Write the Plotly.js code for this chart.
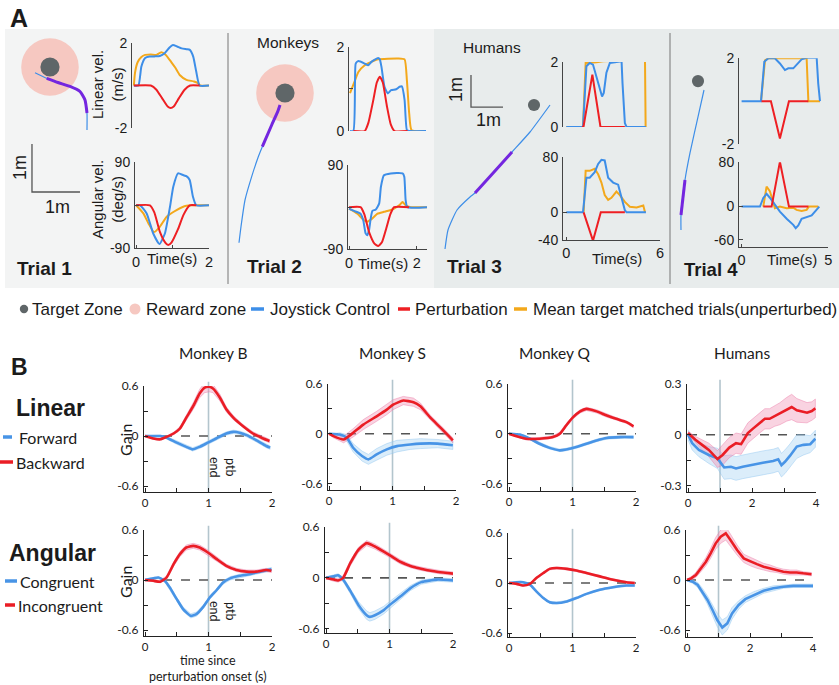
<!DOCTYPE html>
<html><head><meta charset="utf-8">
<script src="https://cdn.plot.ly/plotly-3.0.1.min.js"></script>
<style>html,body{margin:0;padding:0;background:#fff}#chart{width:839px;height:685px}</style>
</head><body><div id="chart"></div><script>
// ---------------- DATA: Panel A trajectories (metres) ----------------
const traj1X = [1.604,1.604,1.5625,1.458,1.25,1.0,0.765,0.521];
const traj1Y = [2.708,3.0625,3.333,3.51,3.615,3.698,3.785,3.902];
const traj1PtbFrom = 1, traj1PtbTo = 6;
const target1 = [0.833,4.021];
const traj2X = [0.146,0.1875,0.271,0.41,0.548,0.632,0.827,0.952,1.0];
const traj2Y = [0.36,0.694,1.25,1.736,2.152,2.361,2.8125,3.09,3.229];
const traj2PtbFrom = 5, traj2PtbTo = 8;
const target2 = [1.104,3.479];
const traj3X = [0.219,0.3125,0.594,1.0,1.156,1.73,2.3125,2.875,3.5];
const traj3Y = [0.344,0.9375,1.5625,1.969,2.094,2.73,3.375,4.0,4.844];
const traj3PtbFrom = 4, traj3PtbTo = 6;
const target3 = [3.0,4.844];
const traj4X = [0.281,0.281,0.406,0.5625,0.8125,1.0];
const traj4Y = [0.9375,1.406,2.5,3.344,4.469,5.3125];
const traj4PtbFrom = 1, traj4PtbTo = 2;
const target4 = [0.8125,5.59];
const rewardRadius = 0.6, targetRadiusMonkey = 0.2, targetRadiusHuman = 0.19;

// ---------------- DATA: Panel A velocity profiles ----------------
// Trial 1
const t1LinJoyT = [0,0.12,0.2,0.3,0.42,0.55,0.69,0.82,0.95,1.04,1.15,1.27,1.4,1.49,1.58,1.66,1.75,2.0];
const t1LinJoy  = [0,0,0.9,1.3,1.37,1.38,1.4,1.53,1.8,1.92,1.85,1.76,1.72,1.69,1.37,0.66,0,0];
const t1LinMeanT = [0,0.03,0.1,0.2,0.3,0.45,0.6,0.73,0.85,1.0,1.1,1.22,1.4,1.6,1.72,1.76,2.0];
const t1LinMean  = [0,0.6,1.1,1.35,1.45,1.47,1.45,1.57,1.45,1.1,0.85,0.5,0.27,0.19,0.1,0,0];
const t1LinPtbT = [0,0.45,0.6,0.75,0.9,0.98,1.06,1.2,1.35,1.5,1.75];
const t1LinPtb  = [0,0,-0.2,-0.6,-1.0,-1.07,-1.0,-0.6,-0.2,0,0];
const t1AngJoyT = [0,0.11,0.29,0.47,0.64,0.79,0.93,1.02,1.15,1.3,1.38,1.47,1.56,1.65,2.0];
const t1AngJoy  = [0,0,-17,-59,-81,-59,-3,39,67,63,61,53,18,0,0];
const t1AngMeanT = [0,0.2,0.34,0.49,0.65,0.84,1.11,1.38,1.56,2.0];
const t1AngMean  = [0,-17,-38,-56,-45,-24,-10,-1,0,0];
const t1AngPtbT = [0,0.38,0.5,0.65,0.8,0.88,0.97,1.15,1.3,1.47,1.65];
const t1AngPtb  = [0,0,-15,-55,-78,-83,-78,-50,-20,0,0];
// Trial 2
const t2LinJoyT = [0,0.1,0.15,0.17,0.25,0.44,0.54,0.64,0.84,0.89,0.94,1.03,1.13,1.23,1.38,1.48,1.55,1.63,1.7,1.77,2.27];
const t2LinJoy  = [0,0,1.2,1.6,1.66,1.6,1.56,1.64,1.73,1.7,1.52,1.05,0.89,0.97,0.99,1.05,1.06,0.74,0.02,0,0];
const t2LinMeanT = [0,0.15,0.25,0.44,0.64,0.84,1.43,1.63,1.7,1.77,1.84,2.27];
const t2LinMean  = [0.9,1.2,1.4,1.56,1.64,1.7,1.72,1.7,1.2,0.4,0.02,0];
const t2LinPtbT = [0.1,0.44,0.55,0.7,0.8,0.89,0.98,1.1,1.22,1.33,1.72];
const t2LinPtb  = [0,0,0.2,0.75,1.15,1.29,1.15,0.6,0.15,0,0];
const t2AngJoyT = [0,0.15,0.34,0.42,0.49,0.54,0.59,0.64,0.69,0.79,0.89,0.94,1.03,1.23,1.58,1.63,1.67,1.72,2.3];
const t2AngJoy  = [-3,-8,-14,-28,-56,-60,-49,-24,-8,-5,8,43,68,72,72,65,15,0,0];
const t2AngMeanT = [0,0.25,0.44,0.54,0.69,0.84,1.03,1.23,1.33,1.48,1.58,1.67,1.82,2.3];
const t2AngMean  = [-3,-14,-28,-31,-24,-14,-10,-6,-3,4,11,4,0,0];
const t2AngPtbT = [0,0.34,0.45,0.6,0.75,0.86,0.97,1.1,1.22,1.33,1.77];
const t2AngPtb  = [0,0,-15,-55,-78,-83,-75,-45,-15,0,0];
// Trial 3
const t3LinJoyT = [0,1.07,1.29,1.5,1.71,1.93,2.14,2.29,2.4,2.57,2.79,3.21,3.54,3.6,3.75,3.86,5.1];
const t3LinJoy  = [0,0,1.87,1.97,1.92,1.56,1.15,0.94,1.05,1.67,1.97,2.0,2.02,1.35,0.12,0,0];
const t3LinMeanT = [0,1.07,1.24,1.5,1.93,2.36,3.21,5.04,5.08];
const t3LinMean  = [0,0,1.97,1.97,1.99,2.02,2.04,2.04,0];
const t3LinPtbT = [1.0,1.1,1.67,2.19,3.75];
const t3LinPtb  = [0,0,1.61,0,0];
const t3AngJoyT = [0,1.07,1.29,1.5,1.82,2.04,2.25,2.46,2.68,3.0,3.32,3.54,3.75,3.86,5.1];
const t3AngJoy  = [0,0,50,50,58,70,76,75,50,43,40,20,3,0,0];
const t3AngMeanT = [1.11,1.24,1.5,1.82,2.04,2.25,2.46,2.68,2.89,3.21,3.43,3.75,4.07,4.5,4.93,5.04];
const t3AngMean  = [0,60,60,63,55,43,25,18,21,30,25,15,8,7,10,0];
const t3AngPtbT = [1.11,1.71,2.21,3.75];
const t3AngPtb  = [0,-41,0,0];
// Trial 4
const t4LinJoyT = [0,1.12,1.31,1.54,1.92,2.21,2.5,2.69,2.98,3.17,3.46,3.75,4.33,4.42,4.48,4.52];
const t4LinJoy  = [0,0,1.84,2.0,2.0,1.76,1.45,1.53,1.53,1.68,1.95,2.02,2.02,0.82,0,0];
const t4LinMeanT = [1.12,1.35,1.54,3.75,3.85,4.52];
const t4LinMean  = [0,1.91,2.0,2.0,0,0];
const t4LinPtbT = [1.15,1.69,2.21,2.73,3.85];
const t4LinPtb  = [0,0,-1.74,0,0];
const t4AngJoyT = [0,1.06,1.25,1.44,1.63,1.92,2.21,2.6,2.98,3.12,3.27,3.46,3.75,4.04,4.23,4.42,4.48];
const t4AngJoy  = [0,0,15.6,23,16,3,-9,-22,-33,-39,-34,-22,-19,-16,-9,-2,0];
const t4AngMeanT = [1.25,1.44,1.63,1.77,1.92,2.21,2.6,2.98,3.17,3.46,3.75,3.88,4.42];
const t4AngMean  = [0,36,28,12,-3,0,-3,-2,-6,-8,-6,0,0];
const t4AngPtbT = [1.25,1.73,2.21,2.73,3.85];
const t4AngPtb  = [0,0,81,0,0];

// ---------------- DATA: Panel B gains (mean and SEM) ----------------
const mbLinBwdT = [0,0.13,0.24,0.34,0.45,0.55,0.65,0.76,0.86,0.94,1.01,1.07,1.18,1.28,1.39,1.54,1.70,1.86,1.96];
const mbLinBwd  = [0,-0.03,-0.04,-0.01,0.03,0.09,0.22,0.36,0.51,0.58,0.59,0.57,0.46,0.32,0.22,0.12,0.03,-0.03,-0.06];
const mbLinBwdS = [0,0.01,0.01,0.01,0.015,0.02,0.03,0.04,0.05,0.06,0.06,0.05,0.04,0.03,0.025,0.02,0.02,0.02,0.02];
const mbLinFwdT = [0,0.13,0.24,0.34,0.5,0.65,0.75,0.86,0.99,1.12,1.28,1.39,1.49,1.6,1.75,1.91,1.97];
const mbLinFwd  = [0,0,0,-0.02,-0.08,-0.13,-0.16,-0.13,-0.08,-0.03,0.03,0.05,0.04,0.01,-0.05,-0.12,-0.14];
const mbLinFwdS = [0,0.01,0.01,0.015,0.02,0.02,0.02,0.02,0.02,0.02,0.02,0.02,0.02,0.02,0.02,0.02,0.02];
const msLinBwdT = [0,0.07,0.23,0.38,0.54,0.75,0.91,1.01,1.17,1.33,1.44,1.6,1.76,1.95];
const msLinBwd  = [0,-0.03,-0.07,0.01,0.11,0.21,0.29,0.35,0.4,0.38,0.33,0.19,0.07,-0.08];
const msLinBwdS = [0,0.02,0.04,0.05,0.06,0.06,0.06,0.06,0.05,0.05,0.04,0.03,0.03,0.03];
const msLinFwdT = [0,0.17,0.28,0.38,0.52,0.62,0.75,0.91,1.07,1.28,1.44,1.71,1.95];
const msLinFwd  = [0,-0.01,-0.05,-0.17,-0.27,-0.31,-0.25,-0.19,-0.15,-0.13,-0.12,-0.12,-0.14];
const msLinFwdS = [0,0.02,0.04,0.05,0.06,0.06,0.07,0.07,0.07,0.06,0.06,0.05,0.05];
const mqLinBwdT = [0,0.12,0.27,0.48,0.69,0.8,0.9,1.01,1.12,1.22,1.38,1.54,1.69,1.85,1.96];
const mqLinBwd  = [0,-0.03,-0.06,-0.06,-0.04,0,0.1,0.2,0.27,0.3,0.27,0.22,0.18,0.14,0.09];
const mqLinBwdS = [0.01,0.01,0.015,0.015,0.015,0.02,0.02,0.02,0.02,0.02,0.02,0.02,0.015,0.015,0.015];
const mqLinFwdT = [0,0.17,0.33,0.48,0.64,0.8,0.9,1.06,1.22,1.38,1.54,1.75,1.96];
const mqLinFwd  = [0,-0.01,-0.06,-0.12,-0.17,-0.2,-0.19,-0.16,-0.12,-0.08,-0.05,-0.04,-0.04];
const mqLinFwdS = [0.01,0.01,0.01,0.015,0.015,0.015,0.015,0.015,0.015,0.015,0.015,0.015,0.015];
const huLinBwdT = [0,0.23,0.44,0.65,0.92,1.08,1.29,1.5,1.66,1.87,2.03,2.24,2.4,2.55,2.71,2.87,3.08,3.24,3.4,3.56,3.72,3.87,3.98];
const huLinBwd  = [0.01,-0.03,-0.06,-0.09,-0.144,-0.12,-0.076,-0.05,-0.056,0.01,0.036,0.07,0.094,0.094,0.11,0.124,0.15,0.164,0.144,0.136,0.13,0.14,0.156];
const huLinBwdS = [0.01,0.02,0.03,0.04,0.05,0.06,0.06,0.06,0.06,0.06,0.06,0.06,0.06,0.06,0.06,0.065,0.07,0.075,0.07,0.065,0.06,0.055,0.055];
const huLinFwdT = [0,0.13,0.34,0.65,0.92,1.13,1.34,1.5,1.71,2.03,2.34,2.66,2.82,2.92,3.03,3.19,3.4,3.61,3.82,3.98];
const huLinFwd  = [0,-0.05,-0.09,-0.12,-0.14,-0.194,-0.19,-0.2,-0.19,-0.176,-0.166,-0.156,-0.146,-0.18,-0.16,-0.124,-0.07,-0.06,-0.056,-0.024];
const huLinFwdS = [0.03,0.04,0.04,0.05,0.06,0.07,0.07,0.07,0.07,0.07,0.07,0.07,0.07,0.07,0.07,0.07,0.07,0.06,0.05,0.05];
const mbAngIncT = [0,0.13,0.24,0.34,0.45,0.55,0.65,0.76,0.86,0.99,1.13,1.28,1.44,1.6,1.75,1.91,1.99];
const mbAngInc  = [0,-0.01,-0.02,0.03,0.19,0.31,0.39,0.41,0.39,0.33,0.25,0.17,0.12,0.1,0.1,0.12,0.11];
const mbAngIncS = [0.01,0.01,0.015,0.02,0.025,0.03,0.03,0.03,0.03,0.03,0.025,0.02,0.02,0.02,0.02,0.02,0.02];
const mbAngConT = [0,0.13,0.21,0.31,0.39,0.5,0.6,0.72,0.81,0.92,1.02,1.13,1.23,1.34,1.49,1.65,1.81,1.99];
const mbAngCon  = [0,0.02,0.03,-0.01,-0.09,-0.23,-0.35,-0.43,-0.41,-0.32,-0.21,-0.12,-0.03,0.02,0.05,0.07,0.1,0.13];
const mbAngConS = [0.01,0.01,0.01,0.015,0.02,0.02,0.025,0.025,0.025,0.02,0.02,0.02,0.02,0.02,0.02,0.02,0.02,0.02];
const msAngIncT = [0,0.12,0.19,0.27,0.38,0.51,0.64,0.77,0.91,1.04,1.17,1.33,1.48,1.6,1.77,2.0];
const msAngInc  = [0,-0.02,-0.03,0,0.17,0.33,0.41,0.37,0.31,0.25,0.19,0.14,0.11,0.09,0.07,0.05];
const msAngIncS = [0.01,0.02,0.02,0.025,0.03,0.03,0.03,0.03,0.03,0.025,0.025,0.02,0.02,0.02,0.02,0.02];
const msAngConT = [0,0.12,0.19,0.27,0.38,0.51,0.64,0.69,0.77,0.91,1.0,1.17,1.33,1.5,1.75,2.0];
const msAngCon  = [0,0.02,0.03,-0.02,-0.15,-0.32,-0.44,-0.46,-0.44,-0.38,-0.32,-0.22,-0.12,-0.05,-0.02,-0.03];
const msAngConS = [0.01,0.02,0.02,0.025,0.03,0.04,0.05,0.05,0.05,0.045,0.04,0.035,0.03,0.025,0.02,0.02];
const mqAngIncT = [0,0.12,0.22,0.33,0.43,0.54,0.64,0.75,0.91,1.06,1.22,1.43,1.64,1.85,1.98];
const mqAngInc  = [0,-0.01,-0.03,-0.01,0.06,0.12,0.17,0.18,0.17,0.15,0.12,0.08,0.04,0.01,0];
const mqAngIncS = [0.005,0.01,0.01,0.01,0.01,0.01,0.012,0.012,0.012,0.012,0.01,0.01,0.01,0.01,0.01];
const mqAngConT = [0,0.12,0.22,0.33,0.43,0.54,0.64,0.75,0.91,1.06,1.22,1.43,1.64,1.85,1.98];
const mqAngCon  = [0,0.01,0.01,-0.02,-0.1,-0.18,-0.23,-0.24,-0.22,-0.18,-0.13,-0.08,-0.05,-0.03,-0.03];
const mqAngConS = [0.005,0.01,0.01,0.01,0.01,0.012,0.012,0.012,0.012,0.012,0.01,0.01,0.01,0.01,0.01];
const huAngIncT = [0,0.13,0.28,0.44,0.6,0.75,0.91,1.07,1.23,1.38,1.59,1.8,2.01,2.22,2.43,2.64,2.85,3.06,3.27,3.48,3.69,3.95];
const huAngInc  = [0,0.02,0.06,0.14,0.22,0.32,0.44,0.52,0.56,0.48,0.36,0.26,0.22,0.19,0.16,0.14,0.12,0.1,0.09,0.09,0.08,0.07];
const huAngIncS = [0.01,0.02,0.03,0.04,0.05,0.06,0.07,0.08,0.08,0.07,0.06,0.05,0.05,0.05,0.04,0.04,0.03,0.03,0.03,0.03,0.02,0.02];
const huAngConT = [0,0.18,0.34,0.49,0.65,0.81,0.96,1.12,1.28,1.43,1.64,1.85,2.12,2.43,2.74,3.06,3.37,3.69,4.0];
const huAngCon  = [0,-0.02,-0.06,-0.14,-0.24,-0.36,-0.48,-0.57,-0.52,-0.4,-0.3,-0.23,-0.18,-0.13,-0.1,-0.08,-0.07,-0.07,-0.07];
const huAngConS = [0.01,0.02,0.03,0.04,0.05,0.06,0.08,0.09,0.08,0.07,0.05,0.04,0.04,0.03,0.03,0.02,0.02,0.02,0.02];

// Tick labels / text
const titlesB = ['Monkey B','Monkey S','Monkey Q','Humans'];
const legendA = ['Target Zone','Reward zone','Joystick Control','Perturbation','Mean target matched trials(unperturbed)'];

// ---------------- BUILD ----------------
const W=839,H=685;
const C={joy:'#3d8ee8',ptb:'#ee1f23',mean:'#f3a81b',purple:'#7426df',target:'#5f6668',reward:'#f6c8c1',
  bRed:'#ea1d25',bBlue:'#4894e6',bRedBand:'rgba(240,140,175,0.38)',bRedEdge:'rgba(235,120,165,0.55)',
  bBlueBand:'rgba(160,208,242,0.38)',bBlueEdge:'rgba(140,195,238,0.55)',vline:'#b3c5cd'};
const FA='"Liberation Sans", Arial, Helvetica, sans-serif';
const FB='Lato, "Open Sans", sans-serif';
const traces=[];
const layout={width:W,height:H,margin:{l:0,r:0,t:0,b:0},paper_bgcolor:'#ffffff',plot_bgcolor:'rgba(0,0,0,0)',
  showlegend:false,shapes:[],annotations:[],hovermode:false};
let n=0;
function axes(x0,x1,yTop,yBot,xr,yr,xo,yo){
  n++; const sfx=(n===1?'':n);
  const xs='x'+sfx, ys='y'+sfx;
  layout['xaxis'+sfx]=Object.assign({domain:[x0/W,x1/W],range:xr,anchor:ys,showgrid:false,zeroline:false,visible:false,fixedrange:true},xo||{});
  layout['yaxis'+sfx]=Object.assign({domain:[1-yBot/H,1-yTop/H],range:yr,anchor:xs,showgrid:false,zeroline:false,visible:false,fixedrange:true},yo||{});
  return {x:xs,y:ys};
}
function line(ax,t,v,color,w,shape){
  traces.push({type:'scatter',mode:'lines',x:t,y:v,xaxis:ax.x,yaxis:ax.y,
    line:{color:color,width:w,shape:shape||'linear',smoothing:0.5},hoverinfo:'skip',cliponaxis:false});
}
function band(ax,t,v,s,fill,edge){
  const up=v.map((a,i)=>a+s[i]), lo=v.map((a,i)=>a-s[i]);
  traces.push({type:'scatter',mode:'lines',x:t.concat(t.slice().reverse()),y:up.concat(lo.slice().reverse()),
    fill:'toself',fillcolor:fill,line:{width:0.8,color:edge},xaxis:ax.x,yaxis:ax.y,hoverinfo:'skip'});
}
function txt(x,y,text,size,opts){
  layout.annotations.push(Object.assign({xref:'paper',yref:'paper',x:x/W,y:1-y/H,text:text,showarrow:false,
    xanchor:'center',yanchor:'middle',font:{family:FA,size:size,color:'#1b1b1b'}},opts||{}));
}
function prect(x0,y0,x1,y1,color){
  layout.shapes.push({type:'rect',xref:'paper',yref:'paper',x0:x0/W,x1:x1/W,y0:1-y1/H,y1:1-y0/H,fillcolor:color,line:{width:0},layer:'below'});
}
function pline(x0,y0,x1,y1,color,w){
  layout.shapes.push({type:'line',xref:'paper',yref:'paper',x0:x0/W,x1:x1/W,y0:1-y0/H,y1:1-y1/H,line:{color:color,width:w}});
}
function pdot(x,y,r,color){
  layout.shapes.push({type:'circle',xref:'paper',yref:'paper',x0:(x-r)/W,x1:(x+r)/W,y0:1-(y+r)/H,y1:1-(y-r)/H,fillcolor:color,line:{width:0}});
}
function circ(ax,c,r,color){
  layout.shapes.push({type:'circle',xref:ax.x,yref:ax.y,x0:c[0]-r,x1:c[0]+r,y0:c[1]-r,y1:c[1]+r,fillcolor:color,line:{width:0},layer:'below'});
}
function scaleBar(ax,x0,y0){
  layout.shapes.push({type:'path',xref:ax.x,yref:ax.y,path:`M ${x0} ${y0+1} L ${x0} ${y0} L ${x0+1} ${y0}`,line:{color:'#555',width:1.3}});
}
function yA(vals,texts){return {visible:true,showline:true,linecolor:'#444',linewidth:1,ticks:'inside',ticklen:4,tickcolor:'#444',
  tickvals:vals,ticktext:texts,tickfont:{family:FA,size:14,color:'#1b1b1b'},ticklabelstandoff:1};}
function xA(vals,texts){return {visible:true,showline:true,linecolor:'#444',linewidth:1,ticks:'inside',ticklen:3,tickcolor:'#444',
  tickvals:vals,ticktext:texts,tickfont:{family:FA,size:14.5,color:'#1b1b1b'},ticklabelstandoff:0};}

// Panel A backgrounds
prect(5,29,434,288,'#f3f4f4');
prect(434,29,839,288,'#e8ecec');
pline(228,33,228,284,'#777',1);
pline(670,33,670,284,'#777',1);
txt(19,18,'<b>A</b>',25);

// Trajectories
function traj(ax,X,Y,a,b){
  line(ax,X,Y,C.joy,1.2,'spline');
  line(ax,X.slice(a,b+1),Y.slice(a,b+1),C.purple,3,'spline');
}
const tr1=axes(10,130,35,260,[0,2.5],[0,4.6875]);
circ(tr1,target1,rewardRadius,C.reward); circ(tr1,target1,targetRadiusMonkey,C.target);
traj(tr1,traj1X,traj1Y,traj1PtbFrom,traj1PtbTo);
scaleBar(tr1,0.458,1.417);
const tr2=axes(232,335,35,260,[0,2.146],[0,4.6875]);
circ(tr2,target2,rewardRadius,C.reward); circ(tr2,target2,targetRadiusMonkey,C.target);
traj(tr2,traj2X,traj2Y,traj2PtbFrom,traj2PtbTo);
const tr3=axes(438,560,60,260,[0,3.8125],[0,6.25]);
circ(tr3,target3,targetRadiusHuman,C.target);
traj(tr3,traj3X,traj3Y,traj3PtbFrom,traj3PtbTo);
scaleBar(tr3,1.031,4.78);
const tr4=axes(672,730,60,260,[0,1.8125],[0,6.25]);
circ(tr4,target4,targetRadiusHuman,C.target);
traj(tr4,traj4X,traj4Y,traj4PtbFrom,traj4PtbTo);

// Scale labels
txt(20,168,'1m',18,{textangle:-90});
txt(57,207,'1m',18);
txt(456,90,'1m',18,{textangle:-90});
txt(488,120,'1m',18);

// Velocity plots
function velSet(ax,mt,mv,jt,jv,pt,pv,shape){
  line(ax,mt,mv,C.mean,2,shape); line(ax,jt,jv,C.joy,2,shape); line(ax,pt,pv,C.ptb,2,shape);
}
const v1l=axes(132,209,43.3,127.7,[-0.05,2],[-2,2],{},yA([-2,2],['-2','2']));
velSet(v1l,t1LinMeanT,t1LinMean,t1LinJoyT,t1LinJoy,t1LinPtbT,t1LinPtb,'spline');
const v1a=axes(135,209,162.3,248.3,[-0.03,2],[-90,90],xA([0,1,2],['0','','2']),yA([-90,0,90],['-90','','90']));
velSet(v1a,t1AngMeanT,t1AngMean,t1AngJoyT,t1AngJoy,t1AngPtbT,t1AngPtb,'spline');
const v2l=axes(349,427,46.7,131,[-0.03,2.3],[0,2],{},yA([0,1,2],['0','','2']));
velSet(v2l,t2LinMeanT,t2LinMean,t2LinJoyT,t2LinJoy,t2LinPtbT,t2LinPtb,'spline');
const v2a=axes(348,427,165,249.3,[-0.03,2.3],[-90,90],xA([0,2],['0','2']),yA([-90,0,90],['-90','','90']));
velSet(v2a,t2AngMeanT,t2AngMean,t2AngJoyT,t2AngJoy,t2AngPtbT,t2AngPtb,'spline');
const v3l=axes(563,660,62,127,[-0.21,6],[0,2],{},yA([0,2],['0','2']));
velSet(v3l,t3LinMeanT,t3LinMean,t3LinJoyT,t3LinJoy,t3LinPtbT,t3LinPtb);
const v3a=axes(563,660,157,240,[-0.21,6],[-40,80],xA([0,6],['0','6']),yA([-40,0,80],['-40','0','80']));
velSet(v3a,t3AngMeanT,t3AngMean,t3AngJoyT,t3AngJoy,t3AngPtbT,t3AngPtb);
const v4l=axes(739,828.3,58.3,144,[-0.15,5],[-2,2],{},yA([-2,2],['-2','2']));
velSet(v4l,t4LinMeanT,t4LinMean,t4LinJoyT,t4LinJoy,t4LinPtbT,t4LinPtb);
const v4a=axes(739,828.3,162.3,247,[-0.15,5],[-73,80],xA([0,5],['0','5']),yA([-60,0,80],['-60','0','80']));
velSet(v4a,t4AngMeanT,t4AngMean,t4AngJoyT,t4AngJoy,t4AngPtbT,t4AngPtb);

// Panel A texts
txt(108,85,'Linear vel.<br>(m/s)',15,{textangle:-90});
txt(108,200,'Angular vel.<br>(deg/s)',15,{textangle:-90});
txt(172,258,'Time(s)',15);
txt(383,264,'Time(s)',15);
txt(617,258,'Time(s)',15);
txt(792,259,'Time(s)',15);
txt(288,43,'Monkeys',15.5);
txt(492,47,'Humans',15.5);
txt(15,268,'<b>Trial 1</b>',19,{xanchor:'left'});
txt(245,267,'<b>Trial 2</b>',19,{xanchor:'left'});
txt(445,266,'<b>Trial 3</b>',19,{xanchor:'left'});
txt(682,269,'<b>Trial 4</b>',18.5,{xanchor:'left'});

// Legend row
pdot(24,309,4.2,C.target);
txt(30,309,legendA[0],17,{xanchor:'left'});
pdot(135,309,5.5,C.reward);
txt(144,309,legendA[1],17,{xanchor:'left'});
pline(251,309,264,309,C.joy,3.5);
txt(268,309,legendA[2],17,{xanchor:'left'});
pline(398,309,410,309,C.ptb,3.5);
txt(413,309,legendA[3],17,{xanchor:'left'});
pline(514,309,527,309,C.mean,3.5);
txt(531,309,legendA[4],17,{xanchor:'left'});

// Panel B
txt(19,367,'<b>B</b>',23);
txt(50,408,'<b>Linear</b>',23,{});
txt(52,553,'<b>Angular</b>',23,{});
pline(3,437,12,437,C.bBlue,3.5); txt(17,437,'Forward',16,{xanchor:'left',font:{family:FB,size:16,color:'#1b1b1b'}});
pline(0,462,13,462,C.bRed,3.5); txt(14,462,'Backward',16,{xanchor:'left',font:{family:FB,size:16,color:'#1b1b1b'}});
pline(5,581,17,581,C.bBlue,3.5); txt(18,581,'Congruent',16,{xanchor:'left',font:{family:FB,size:16,color:'#1b1b1b'}});
pline(5,605,15,605,C.bRed,3.5); txt(16,605,'Incongruent',16,{xanchor:'left',font:{family:FB,size:16,color:'#1b1b1b'}});

function yB(vals,texts){return {visible:true,showline:true,linecolor:'#222',linewidth:1.2,ticks:'inside',ticklen:4,tickcolor:'#222',
  tickvals:vals,ticktext:texts,tickfont:{family:FB,size:12,color:'#1b1b1b'},ticklabelstandoff:2};}
function xB(vals,texts){return {visible:true,showline:true,linecolor:'#222',linewidth:1.2,ticks:'inside',ticklen:4,tickcolor:'#222',
  tickvals:vals,ticktext:texts,tickfont:{family:FB,size:11.5,color:'#1b1b1b'},ticklabelstandoff:0};}
const y6=[-0.6,-0.3,0,0.3,0.6], y6t=['-0.6','','0','','0.6'];
const y3=[-0.3,-0.15,0,0.15,0.3], y3t=['-0.3','','0','','0.3'];
const x2=[0,0.5,1,1.5,2], x2t=['0','','1','','2'];
const x4=[0,1,2,3,4], x4t=['0','','2','','4'];

function gainPlot(px0,px1,pyTop,pyBot,xmax,ylim,yv,yt,xv,xt,sets){
  const xpad=xmax*0.008;
  const ax=axes(px0,px1,pyTop,pyBot,[-xpad,xmax],ylim,xB(xv,xt),yB(yv,yt));
  layout.shapes.push({type:'line',xref:ax.x,yref:ax.y+' domain',x0:1,x1:1,y0:0,y1:1.04,line:{color:C.vline,width:1.6},layer:'below'});
  layout.shapes.push({type:'line',xref:ax.x,yref:ax.y,x0:0,x1:xmax,y0:0,y1:0,line:{color:'#555',width:1.6,dash:'dash'},layer:'below'});
  sets.forEach(s=>band(ax,s[0],s[1],s[2],s[3],s[4]));
  sets.forEach(s=>line(ax,s[0],s[1],s[5],2.6,s[6]));
  return ax;
}
const R=(t,v,s,sh)=>[t,v,s,C.bRedBand,C.bRedEdge,C.bRed,sh];
const Bl=(t,v,s,sh)=>[t,v,s,C.bBlueBand,C.bBlueEdge,C.bBlue,sh];
// Row 1 (linear)
gainPlot(144,272,386,492,2,[-0.672,0.6],y6,y6t,x2,x2t,[Bl(mbLinFwdT,mbLinFwd,mbLinFwdS,'spline'),R(mbLinBwdT,mbLinBwd,mbLinBwdS,'spline')]);
gainPlot(328,456,384,490,2,[-0.68,0.6],y6,y6t,x2,x2t,[Bl(msLinFwdT,msLinFwd,msLinFwdS,'spline'),R(msLinBwdT,msLinBwd,msLinBwdS,'spline')]);
gainPlot(508,636,384,491,2,[-0.69,0.6],y6,y6t,x2,x2t,[Bl(mqLinFwdT,mqLinFwd,mqLinFwdS,'spline'),R(mqLinBwdT,mqLinBwd,mqLinBwdS,'spline')]);
gainPlot(687,816,384,492,4,[-0.339,0.3],y3,y3t,x4,x4t,[Bl(huLinFwdT,huLinFwd,huLinFwdS),R(huLinBwdT,huLinBwd,huLinBwdS)]);
// Row 2 (angular)
gainPlot(144,272,530,636,2,[-0.672,0.6],y6,y6t,x2,x2t,[Bl(mbAngConT,mbAngCon,mbAngConS,'spline'),R(mbAngIncT,mbAngInc,mbAngIncS,'spline')]);
gainPlot(325,453,527,633,2,[-0.65,0.6],y6,y6t,x2,x2t,[Bl(msAngConT,msAngCon,msAngConS,'spline'),R(msAngIncT,msAngInc,msAngIncS,'spline')]);
gainPlot(508,636,533,637,2,[-0.647,0.6],y6,y6t,x2,x2t,[Bl(mqAngConT,mqAngCon,mqAngConS,'spline'),R(mqAngIncT,mqAngInc,mqAngIncS,'spline')]);
gainPlot(686,813,530,637,4,[-0.684,0.6],y6,y6t,x4,x4t,[Bl(huAngConT,huAngCon,huAngConS),R(huAngIncT,huAngInc,huAngIncS)]);

const FBt={family:FB,size:15.5,color:'#1b1b1b'};
txt(213,353,titlesB[0],15.5,{font:FBt});
txt(392,353,titlesB[1],15.5,{font:FBt});
txt(555,353,titlesB[2],15.5,{font:FBt});
txt(742,353,titlesB[3],15.5,{font:FBt});
txt(125,440,'Gain',16,{textangle:-90,font:{family:FB,size:16,color:'#1b1b1b'}});
txt(125,582,'Gain',16,{textangle:-90,font:{family:FB,size:16,color:'#1b1b1b'}});
const fPtb={family:FB,size:12.5,color:'#1b1b1b'};
txt(223,467,'ptb<br>end',12.5,{textangle:90,font:fPtb});
txt(223,611,'ptb<br>end',12.5,{textangle:90,font:fPtb});
txt(208,685,'time since<br>perturbation onset (s)',12.5,{yanchor:'bottom',borderpad:0,font:{family:FB,size:12.5,color:'#1b1b1b'}});

Plotly.newPlot('chart',traces,layout,{staticPlot:true,displayModeBar:false});
</script></body></html>
